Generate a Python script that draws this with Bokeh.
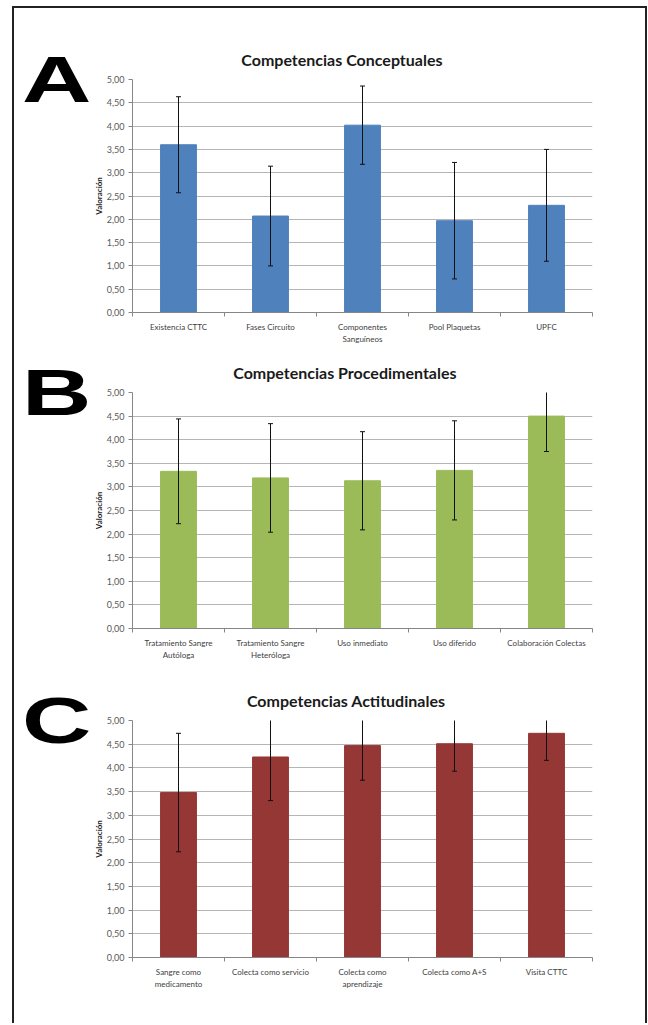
from bokeh.plotting import figure
from bokeh.models import (Range1d, FixedTicker, SingleIntervalTicker, CustomJSTickFormatter,
                          ColumnDataSource, Div)
from bokeh.layouts import column, row
from bokeh.embed import file_html
from bokeh.resources import INLINE

# ---------------- data ----------------
cats_a = ["Existencia CTTC", "Fases Circuito", "Componentes\nSanguíneos", "Pool Plaquetas", "UPFC"]
mean_a = [3.60, 2.07, 4.02, 1.97, 2.30]
sd_a = [1.03, 1.07, 0.84, 1.25, 1.20]

cats_b = ["Tratamiento Sangre\nAutóloga", "Tratamiento Sangre\nHeteróloga", "Uso inmediato",
          "Uso diferido", "Colaboración Colectas"]
mean_b = [3.33, 3.19, 3.13, 3.35, 4.50]
sd_b = [1.11, 1.15, 1.04, 1.05, 0.75]

cats_c = ["Sangre como\nmedicamento", "Colecta como servicio", "Colecta como\naprendizaje",
          "Colecta como A+S", "Visita CTTC"]
mean_c = [3.48, 4.23, 4.47, 4.51, 4.73]
sd_c = [1.25, 0.92, 0.73, 0.58, 0.57]

titles = ["Competencias Conceptuales", "Competencias Procedimentales", "Competencias Actitudinales"]
letters = ["A", "B", "C"]
colors = ["#4F81BD", "#9BBB59", "#953735"]

FONT = "Lato"
LETTER_W = 76
FIG_W = 555


def letter_div(letter, height, top_margin):
    html = ('<div style="font-family: \'Liberation Sans\'; font-weight: bold; font-size: 64px; '
            'line-height: 64px; color: #000; margin-left: 8px; margin-top: %dpx; '
            'transform: scaleX(1.5); transform-origin: left top; width: 50px;">%s</div>'
            % (top_margin, letter))
    return Div(text=html, width=LETTER_W, height=height, margin=0)


def panel(cats, means, sds, title, color, height, top, bottom, title_offset):
    n = len(cats)
    xs = [i + 0.5 for i in range(n)]
    src = ColumnDataSource(dict(x=xs, top=means,
                                upper=[m + s for m, s in zip(means, sds)],
                                lower=[m - s for m, s in zip(means, sds)]))
    p = figure(width=FIG_W, height=height, output_backend="svg", toolbar_location=None,
               x_range=Range1d(0, n), y_range=Range1d(0, 5),
               min_border_left=41, min_border_right=53,
               min_border_top=top, min_border_bottom=bottom, margin=0)
    p.outline_line_color = None
    p.title.text = title
    p.title.align = "right"
    p.title.offset = title_offset
    p.title.text_font = FONT
    p.title.text_font_size = "16px"
    p.title.text_font_style = "bold"
    p.title.text_color = "#1a1a1a"
    p.title.standoff = 22

    p.vbar(x="x", top="top", width=0.39, source=src, fill_color=color, line_color=color)
    p.segment(x0="x", x1="x", y0="lower", y1="upper", source=src, line_color="#111111", line_width=1)
    p.scatter(x="x", y="upper", source=src, marker="dash", size=5, line_color="#111111", line_width=1)
    p.scatter(x="x", y="lower", source=src, marker="dash", size=5, line_color="#111111", line_width=1)

    # y axis
    yax = p.yaxis[0]
    yax.ticker = SingleIntervalTicker(interval=0.5)
    yax.formatter = CustomJSTickFormatter(code="return tick.toFixed(2).replace('.', ',');")
    yax.axis_label = "Valoración"
    yax.axis_label_text_font = FONT
    yax.axis_label_text_font_size = "8px"
    yax.axis_label_text_font_style = "bold"
    yax.axis_label_text_color = "#1a1a1a"
    yax.axis_label_standoff = 0
    yax.major_label_text_font = FONT
    yax.major_label_text_font_size = "9px"
    yax.major_label_text_color = "#595959"
    yax.major_label_standoff = 4
    yax.major_tick_out = 4
    yax.major_tick_in = 0
    yax.minor_tick_line_color = None
    yax.axis_line_color = "#868686"
    yax.major_tick_line_color = "#868686"

    p.ygrid.ticker = SingleIntervalTicker(interval=0.5)
    p.ygrid.grid_line_color = "#b5b5b5"
    p.ygrid.grid_line_width = 1
    p.xgrid.grid_line_color = None

    # x axis
    xax = p.xaxis[0]
    xax.ticker = FixedTicker(ticks=xs, minor_ticks=list(range(n + 1)))
    xax.major_label_overrides = {x: c for x, c in zip(xs, cats)}
    xax.major_label_text_font = FONT
    xax.major_label_text_font_size = "8px"
    xax.major_label_text_color = "#404040"
    xax.major_label_standoff = 3
    xax.major_tick_line_color = None
    xax.minor_tick_out = 4
    xax.minor_tick_in = 0
    xax.minor_tick_line_color = "#868686"
    xax.axis_line_color = "#868686"
    return p


pa = panel(cats_a, mean_a, sd_a, titles[0], colors[0], 338, 71, 31, 150)
pb = panel(cats_b, mean_b, sd_b, titles[1], colors[1], 326, 46, 44, 136)
pc = panel(cats_c, mean_c, sd_c, titles[2], colors[2], 351, 48, 66, 147)

ra = row(letter_div(letters[0], 338, 40), pa, margin=0)
rb = row(letter_div(letters[1], 326, 15), pb, margin=0)
rc = row(letter_div(letters[2], 351, 17), pc, margin=0)

layout = column(ra, rb, rc, styles={"margin-left": "12px", "margin-top": "6px",
                                    "border-top": "2px solid #222222",
                                    "border-left": "2px solid #222222",
                                    "border-right": "2px solid #222222"})

open("out.html", "w").write(file_html(layout, INLINE))
